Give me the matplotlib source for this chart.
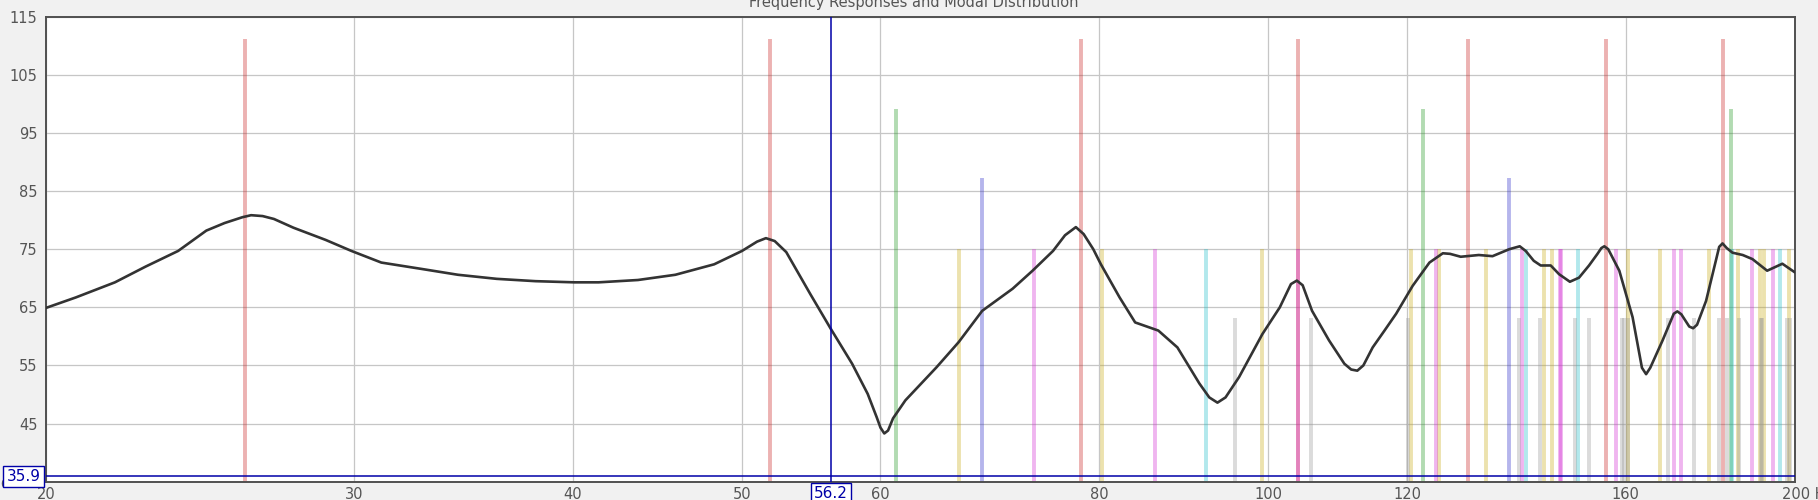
import matplotlib

matplotlib.use("Agg")
import matplotlib.pyplot as plt

plt.rcParams["font.family"] = ["DejaVu Sans Condensed", "DejaVu Sans"]

# frequency response (Hz, dB)
freq = [20.0, 20.8, 21.9, 22.8, 23.8, 24.7, 25.3, 25.9, 26.2, 26.6, 27.0, 27.7,
        28.9, 29.9, 31.1, 32.8, 34.4, 36.2, 38.1, 40.1, 41.4, 43.6, 45.8, 48.2,
        50.0, 51.0, 51.6, 52.2, 53.0, 54.7, 56.2, 57.8, 59.0, 59.7, 60.0, 60.3,
        60.6, 61.0, 62.0, 64.6, 66.5, 68.6, 71.4, 73.3, 75.3, 76.5, 77.6, 78.4,
        79.4, 80.2, 82.2, 83.9, 86.5, 88.7, 91.3, 92.5, 93.5, 94.5, 96.2, 99.2,
        101.5, 103.0, 103.8, 104.6, 105.9, 108.3, 110.5, 111.5, 112.4, 113.3,
        114.7, 116.5, 118.3, 120.9, 123.6, 125.8, 127.0, 128.8, 131.9, 134.3,
        137.3, 139.2, 140.3, 141.8, 143.1, 145.0, 146.6, 148.7, 150.5, 152.5,
        154.2, 155.0, 155.6, 156.4, 158.7, 161.5, 163.5, 164.4, 165.3, 168.0,
        170.5, 171.3, 172.2, 174.0, 174.9, 175.8, 177.9, 180.2, 181.0, 181.8,
        182.8, 184.2, 186.7, 189.1, 192.8, 196.7, 200.0]
spl = [64.9, 66.7, 69.3, 72.0, 74.7, 78.2, 79.5, 80.5, 80.85, 80.7, 80.2, 78.7,
       76.6, 74.7, 72.7, 71.6, 70.6, 69.9, 69.5, 69.3, 69.3, 69.7, 70.6, 72.4,
       74.7, 76.3, 76.9, 76.4, 74.5, 67.3, 61.3, 55.3, 50.1, 46.1, 44.3, 43.3,
       43.8, 45.9, 49.0, 54.7, 59.0, 64.4, 68.2, 71.3, 74.7, 77.4, 78.8, 77.6,
       75.0, 72.4, 66.7, 62.4, 61.0, 58.1, 51.9, 49.5, 48.6, 49.5, 53.0, 60.4,
       65.0, 69.0, 69.6, 68.8, 64.4, 59.3, 55.3, 54.3, 54.1, 55.0,
       58.1, 61.0, 63.9, 68.7, 72.7, 74.3, 74.2, 73.7, 74.0, 73.8,
       75.0, 75.5, 74.7, 73.0, 72.2, 72.2, 70.7, 69.4, 70.1, 72.2,
       74.2, 75.2, 75.5, 75.0, 71.3, 63.3, 54.6, 53.5, 54.6, 59.3,
       63.9, 64.3, 63.8, 61.7, 61.4, 62.0, 66.1, 73.0, 75.4, 76.0,
       75.2, 74.4, 74.0, 73.3, 71.3, 72.5, 71.0]

# room modes (Hz) by family, with the bar height of each family
axial_l = [26.0, 51.9, 78.1, 103.9, 130.1, 156.0, 182.0]
axial_w = [61.2, 122.5, 183.8]
axial_h = [68.6, 137.3]
tang_lw = [66.5, 80.3, 99.2, 120.7, 125.2, 133.2, 143.7, 145.3, 160.6, 167.5,
           178.7, 185.6, 190.9, 192.0, 198.3]
tang_lh = [73.4, 86.1, 103.9, 124.6, 139.7, 147.0, 146.8, 158.0, 170.6, 172.2,
           189.1, 194.4]
tang_wh = [92.1, 140.3, 150.3, 184.1, 196.1]
oblique = [95.7, 105.8, 120.1, 139.0, 142.9, 149.8, 152.5, 159.2, 159.6, 160.6,
           169.3, 175.0, 181.0, 182.9, 185.9, 191.4, 191.3, 197.9, 198.8]

mode_sets = [
    (axial_l, 111.2, "#c81e1e"),
    (axial_w, 99.1, "#1e961e"),
    (axial_h, 87.3, "#2828c8"),
    (tang_lw, 75.0, "#c8aa14"),
    (tang_lh, 75.0, "#d228d2"),
    (tang_wh, 75.0, "#1ebec8"),
    (oblique, 63.1, "#969696"),
]

cursor_f = 56.2
cursor_db = 35.9

x_ticks = [20, 30, 40, 50, 60, 80, 100, 120, 160]
y_ticks = [45, 55, 65, 75, 85, 95, 105, 115]

fig = plt.figure(figsize=(18.18, 5.0), dpi=100, facecolor="#f1f1f1")
ax = fig.add_axes([46 / 1818, 1 - 481.7 / 500, (1795 - 46) / 1818, 465 / 500])
ax.set_facecolor("white")

ax.set_xscale("log")
ax.set_xlim(20, 200)
ax.set_ylim(35, 115)
ax.set_xticks(x_ticks)
ax.set_xticklabels([str(t) for t in x_ticks])
ax.xaxis.set_minor_locator(matplotlib.ticker.NullLocator())
ax.set_yticks(y_ticks)
ax.tick_params(length=0, labelsize=10.5, labelcolor="#555555")
ax.tick_params(axis="y", pad=6)
ax.tick_params(axis="x", pad=4)
ax.grid(True, color="#c6c6c6", linewidth=0.9, zorder=0)
ax.set_axisbelow(True)
for sp in ax.spines.values():
    sp.set_color("#505050")
    sp.set_linewidth(1.4)

for freqs, top, col in mode_sets:
    ax.vlines(freqs, 35, top, colors=col, linewidth=2.8, alpha=0.34, zorder=2)

ax.plot(freq, spl, color="#333333", linewidth=1.9, zorder=4,
        solid_joinstyle="round", solid_capstyle="round")

# cursor
ax.axvline(cursor_f, color="#0000a8", linewidth=1.1, zorder=5)
ax.axhline(cursor_db, color="#0000a8", linewidth=1.1, zorder=5)
box = dict(boxstyle="square,pad=0.2", facecolor="white", edgecolor="#0000a8", linewidth=1.0)
ax.annotate("dB", xy=(0, 0), xycoords="figure pixels", xytext=(0, 12), textcoords="figure pixels",
            fontsize=10.5, color="#555555", ha="left", va="baseline", annotation_clip=False)
ax.annotate(f"{cursor_db}", xy=(0, cursor_db), xycoords=("axes fraction", "data"),
            xytext=(-4, 0), textcoords="offset points", ha="right", va="center",
            fontsize=11, color="#0000a8", bbox=box, zorder=6, annotation_clip=False)
ax.annotate(f"{cursor_f}", xy=(cursor_f, 0), xycoords=("data", "axes fraction"),
            xytext=(0, -3), textcoords="offset points", ha="center", va="top",
            fontsize=11, color="#0000a8", bbox=box, zorder=6, annotation_clip=False)
ax.annotate("200 Hz", xy=(200, 0), xycoords=("data", "axes fraction"),
            xytext=(-9, -4), textcoords="offset points", ha="left", va="top",
            fontsize=10.5, color="#555555", annotation_clip=False)

fig.text(914 / 1818, 1 - 7 / 500, "Frequency Responses and Modal Distribution",
         ha="center", va="baseline", fontsize=10.5, color="#555555")

fig.savefig("out.png", dpi=100, facecolor=fig.get_facecolor())
